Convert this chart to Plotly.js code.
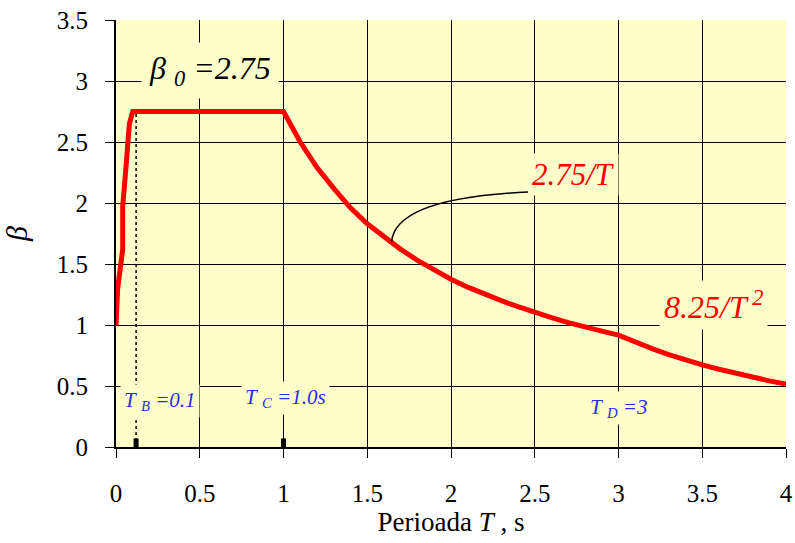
<!DOCTYPE html>
<html>
<head>
<meta charset="utf-8">
<script src="https://cdn.plot.ly/plotly-3.0.1.min.js"></script>
<style>html,body{margin:0;padding:0;background:#fff;}</style>
</head>
<body>
<div id="chart"></div>
<script>
// Spectrum curve
const periodT = [0, 0.01, 0.04, 0.04, 0.06, 0.08, 0.1,
  1.0, 1.1, 1.2, 1.3, 1.4, 1.5, 1.6, 1.7, 1.8, 1.9, 2.0,
  2.1, 2.2, 2.3, 2.4, 2.5, 2.6, 2.7, 2.8, 2.9, 3.0,
  3.1, 3.2, 3.3, 3.4, 3.5, 3.6, 3.7, 3.8, 3.9, 4.0];
const beta = [1.0, 1.3, 1.62, 1.97, 2.3, 2.65, 2.75,
  2.75, 2.50, 2.29, 2.12, 1.96, 1.83, 1.72, 1.62, 1.53, 1.45, 1.375,
  1.31, 1.25, 1.20, 1.15, 1.10, 1.06, 1.02, 0.98, 0.95, 0.917,
  0.858, 0.806, 0.758, 0.714, 0.673, 0.637, 0.603, 0.571, 0.542, 0.516];
// Corner periods marked on the axis
const markT = [0.12, 1.0];
const markTop = [0.07, 0.07];
const markBottom = [-0.03, -0.03];
const dottedT = [0.12, 0.12];
const dottedB = [0, 2.75];
const xTicks = [0, 0.5, 1, 1.5, 2, 2.5, 3, 3.5, 4];
const yTicks = [0, 0.5, 1, 1.5, 2, 2.5, 3, 3.5];

const FONT = "Liberation Serif";
const PLOTBG = "#FFFFCC";
const BLUE = "#2A2AF5";

const traces = [
  {x: dottedT, y: dottedB, mode: "lines", line: {color: "#000", width: 1.5, dash: "dot"}, hoverinfo: "skip"},
  {x: [markT[0], markT[0]], y: [markBottom[0], markTop[0]], mode: "lines", line: {color: "#000", width: 5}, hoverinfo: "skip", cliponaxis: false},
  {x: [markT[1], markT[1]], y: [markBottom[1], markTop[1]], mode: "lines", line: {color: "#000", width: 5}, hoverinfo: "skip", cliponaxis: false},
  {x: periodT, y: beta, mode: "lines", line: {color: "#FF0000", width: 5}}
];

const layout = {
  width: 795, height: 543,
  margin: {l: 116, r: 9, t: 20, b: 96},
  paper_bgcolor: "#FFFFFF", plot_bgcolor: PLOTBG,
  showlegend: false,
  font: {family: FONT, color: "#000", size: 24},
  xaxis: {
    range: [0, 4], tickvals: xTicks, ticktext: xTicks.map(String),
    showgrid: true, gridcolor: "#000", gridwidth: 1,
    showline: true, linecolor: "#000", linewidth: 2, zeroline: false,
    ticks: "outside", ticklen: 9, tickwidth: 1, tickcolor: "#000",
    ticklabelstandoff: 14,
    tickfont: {family: FONT, size: 25, color: "#000"},
    title: {text: "Perioada <i>T</i> , s", font: {family: FONT, size: 27, color: "#000"}, standoff: 0}
  },
  yaxis: {
    range: [0, 3.5], tickvals: yTicks, ticktext: yTicks.map(String),
    showgrid: true, gridcolor: "#000", gridwidth: 1,
    showline: true, linecolor: "#000", linewidth: 2, zeroline: false,
    ticks: "outside", ticklen: 9, tickwidth: 1, tickcolor: "#000",
    ticklabelstandoff: 12,
    tickfont: {family: FONT, size: 25, color: "#000"},
    title: {text: "<i>β</i>", font: {family: FONT, size: 30, color: "#000"}, standoff: 46}
  },
  shapes: [
    {type: "path", xref: "x", yref: "y",
     path: "M 1.645 1.68 C 1.66 1.926 1.934 2.057 2.46 2.09",
     line: {color: "#000", width: 1.5}}
  ],
  annotations: [
    {x: 0.561, y: 3.09, xref: "x", yref: "y", showarrow: false,
     text: "<i>β</i> <sub><i>0</i></sub><i> =2.75</i>", bgcolor: PLOTBG, borderpad: 7,
     font: {family: FONT, size: 32, color: "#000"}},
    {x: 2.73, y: 2.23, xref: "x", yref: "y", showarrow: false,
     text: "<i>2.75/T</i>", bgcolor: PLOTBG, borderpad: 3,
     font: {family: FONT, size: 31, color: "#FF0000"}},
    {x: 3.57, y: 1.16, xref: "x", yref: "y", showarrow: false,
     text: "<i>8.25/T<sup> 2</sup></i>", bgcolor: PLOTBG, borderpad: 4,
     font: {family: FONT, size: 32, color: "#FF0000"}},
    {x: 0.263, y: 0.377, xref: "x", yref: "y", showarrow: false,
     text: "<i>T</i> <sub><i>B</i></sub><i> =0.1</i>", bgcolor: PLOTBG, borderpad: 3,
     font: {family: FONT, size: 21, color: BLUE}},
    {x: 1.009, y: 0.40, xref: "x", yref: "y", showarrow: false,
     text: "<i>T</i> <sub><i>C</i></sub><i> =1.0s</i>", bgcolor: PLOTBG, borderpad: 3,
     font: {family: FONT, size: 21, color: BLUE}},
    {x: 3.0, y: 0.32, xref: "x", yref: "y", showarrow: false,
     text: "<i>T</i> <sub><i>D</i></sub><i> =3</i>", bgcolor: PLOTBG, borderpad: 3,
     font: {family: FONT, size: 21, color: BLUE}}
  ]
};

Plotly.newPlot("chart", traces, layout, {displayModeBar: false});
</script>
</body>
</html>
